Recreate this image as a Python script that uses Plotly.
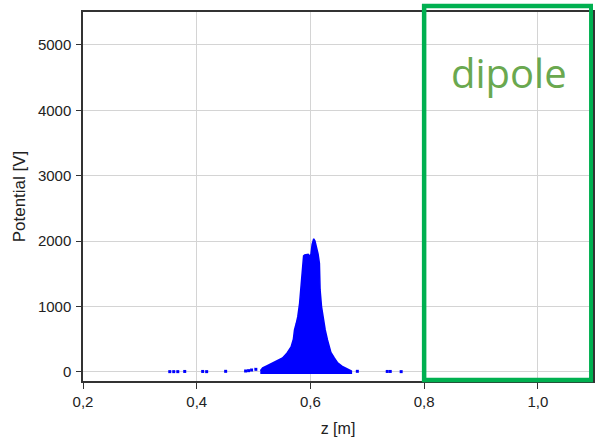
import plotly.graph_objects as go

# Potential distribution along z: the dense cloud is drawn as its outer envelope
# (upper edge left -> right, then back along the baseline), plus a few stray points.
env_z = [0.512, 0.516, 0.524, 0.533, 0.542, 0.551, 0.559, 0.566, 0.570, 0.572, 0.575,
         0.5777, 0.581, 0.583, 0.5845, 0.5855, 0.587, 0.588, 0.590, 0.593, 0.596,
         0.599, 0.601, 0.603, 0.6045, 0.6058, 0.608, 0.611, 0.6135, 0.6158, 0.617,
         0.6195, 0.622, 0.626, 0.630, 0.636, 0.642, 0.648, 0.657, 0.665, 0.672]
env_v = [20, 61, 95, 138, 170, 214, 290, 382, 500, 642, 740,
         841, 1050, 1254, 1450, 1600, 1720, 1774, 1790, 1795, 1800,
         1770, 1800, 1950, 2010, 2035, 2000, 1910, 1800, 1660, 1254,
         1000, 841, 642, 490, 300, 214, 138, 80, 40, 15]
base_v = -20

# isolated points scattered along the baseline
stray_z = [0.3526, 0.3596, 0.3667, 0.3789, 0.4105, 0.4175, 0.4509, 0.4860, 0.4912,
           0.4965, 0.5040, 0.6825, 0.7351, 0.7404, 0.7596]
stray_v = [5, 5, 5, 8, 8, 5, 10, 15, 20, 30, 40, 10, 8, 8, 5]

x_ticks = [0.2, 0.4, 0.6, 0.8, 1.0]
y_ticks = [0, 1000, 2000, 3000, 4000, 5000]

blue = "#0000FF"
font_family = "Liberation Sans, Arial, sans-serif"

poly_z = env_z + env_z[::-1]
poly_v = env_v + [base_v] * len(env_z)

fig = go.Figure()
fig.add_trace(go.Scatter(
    x=poly_z, y=poly_v, mode="lines", fill="toself",
    fillcolor=blue, line=dict(color=blue, width=1.5),
    hoverinfo="skip", showlegend=False,
))
fig.add_trace(go.Scatter(
    x=stray_z, y=stray_v, mode="markers",
    marker=dict(color=blue, size=3, symbol="square"),
    showlegend=False,
))

tick_font = dict(family=font_family, size=15, color="#222222")

fig.update_xaxes(
    range=[0.2, 1.097], tickvals=x_ticks, tickformat=".1f",
    showgrid=True, gridcolor="#D4D4D4", gridwidth=1,
    showline=True, linecolor="#333333", linewidth=1.5, mirror=True,
    ticks="outside", ticklen=6, tickcolor="#333333",
    tickfont=tick_font, zeroline=False, ticklabelstandoff=0,
    title=dict(text="z [m]", font=dict(family=font_family, size=16, color="#222222"),
               standoff=14),
)
fig.update_yaxes(
    range=[-138, 5502], tickvals=y_ticks,
    showgrid=True, gridcolor="#D4D4D4", gridwidth=1,
    showline=True, linecolor="#333333", linewidth=1.5, mirror=True,
    ticks="outside", ticklen=5, tickcolor="#333333",
    tickfont=tick_font, zeroline=False, ticklabelstandoff=2,
    title=dict(text="Potential [V]", font=dict(family=font_family, size=17, color="#222222"),
               standoff=8),
)

# dipole region marker
fig.add_shape(type="rect", xref="x", yref="paper",
              x0=0.8, x1=1.094, y0=0.003, y1=1.016,
              line=dict(color="#00B050", width=4.5), fillcolor="rgba(0,0,0,0)")
fig.add_annotation(text="dipole", xref="paper", yref="paper", x=0.835, y=0.835,
                   xanchor="center", yanchor="middle", showarrow=False,
                   font=dict(family="Open Sans, sans-serif", size=40, color="#6AA84F"))

fig.update_layout(
    width=595, height=447,
    margin=dict(l=83, r=0, t=12, b=66),
    paper_bgcolor="white", plot_bgcolor="white",
    separators=", ",
    showlegend=False,
)

fig.write_html("out.html")
